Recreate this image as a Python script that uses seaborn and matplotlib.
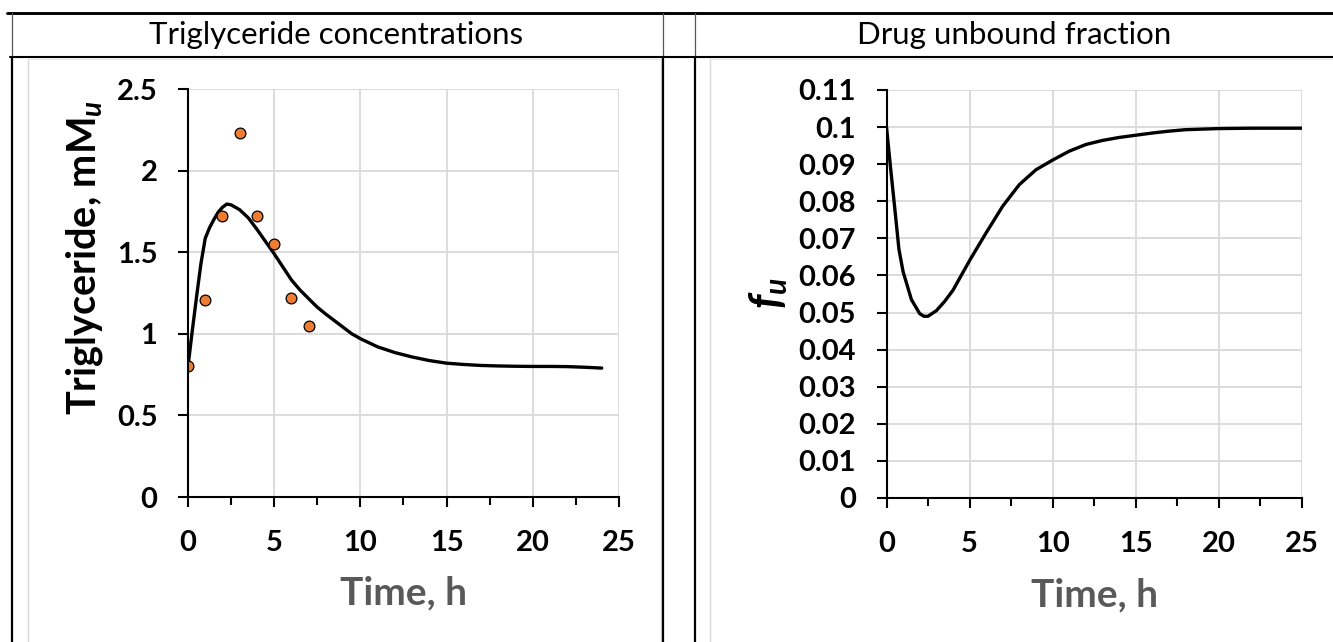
import matplotlib
matplotlib.use("Agg")
import matplotlib.pyplot as plt
from matplotlib.lines import Line2D
from matplotlib.ticker import MultipleLocator
import seaborn as sns
import pandas as pd

# ---------------- data ----------------
tg_time = [0, 0.25, 0.5, 0.75, 1, 1.25, 1.5, 1.75, 2, 2.25, 2.5, 3, 3.5, 4, 4.5,
           5, 5.5, 6, 6.5, 7, 7.5, 8, 8.5, 9, 9.5, 10, 11, 12, 13, 14, 15, 16,
           17, 18, 19, 20, 21, 22, 23, 24]
tg_model = [0.80, 1.02, 1.23, 1.43, 1.585, 1.65, 1.70, 1.745, 1.775, 1.795, 1.79,
            1.76, 1.71, 1.64, 1.565, 1.49, 1.41, 1.33, 1.268, 1.215, 1.163, 1.12,
            1.08, 1.04, 1.00, 0.97, 0.92, 0.885, 0.858, 0.836, 0.82, 0.812, 0.806,
            0.803, 0.801, 0.80, 0.80, 0.799, 0.795, 0.79]
tg_obs_time = [0, 1, 2, 3, 4, 5, 6, 7]
tg_obs = [0.80, 1.21, 1.72, 2.23, 1.72, 1.55, 1.22, 1.05]

fu_time = [0, 0.25, 0.5, 0.75, 1, 1.5, 2, 2.25, 2.5, 3, 3.5, 4, 4.5, 5, 6, 7, 8,
           9, 10, 11, 12, 13, 14, 15, 16, 17, 18, 20, 22, 25]
fu_model = [0.100, 0.0888, 0.078, 0.067, 0.061, 0.0535, 0.0497, 0.0490, 0.0490,
            0.0505, 0.0530, 0.0560, 0.0600, 0.0640, 0.0715, 0.0787, 0.0845,
            0.0885, 0.0911, 0.0935, 0.0953, 0.0964, 0.0972, 0.0978, 0.0984,
            0.0989, 0.0993, 0.0996, 0.0997, 0.0997]

x_ticks = [0, 5, 10, 15, 20, 25]
x_tick_labels = ["0", "5", "10", "15", "20", "25"]
tg_yticks = [0, 0.5, 1, 1.5, 2, 2.5]
tg_ytick_labels = ["0", "0.5", "1", "1.5", "2", "2.5"]
fu_yticks = [0, 0.01, 0.02, 0.03, 0.04, 0.05, 0.06, 0.07, 0.08, 0.09, 0.10, 0.11]
fu_ytick_labels = ["0", "0.01", "0.02", "0.03", "0.04", "0.05", "0.06", "0.07",
                   "0.08", "0.09", "0.1", "0.11"]

header_left = "Triglyceride concentrations"
header_right = "Drug unbound fraction"
xlabel = "Time, h"
ylabel_left = r"Triglyceride, mM$_{\mathit{u}}$"
ylabel_right = r"$\mathit{f}_{\mathit{u}}$"

# ---------------- style ----------------
sns.set_theme(style="white")
plt.rcParams["font.family"] = ["Lato", "DejaVu Sans"]
plt.rcParams["mathtext.fontset"] = "custom"
plt.rcParams["mathtext.rm"] = "Lato:bold"
plt.rcParams["mathtext.it"] = "Lato:italic:bold"
plt.rcParams["mathtext.bf"] = "Lato:bold"

W, H = 1333, 642
fig = plt.figure(figsize=(W / 100, H / 100), dpi=100)
fig.patch.set_facecolor("white")


def px_ax(x0, x1, ytop, ybot):
    return [x0 / W, 1 - ybot / H, (x1 - x0) / W, (ybot - ytop) / H]


ax1 = fig.add_axes(px_ax(188, 619, 89, 497))
ax2 = fig.add_axes(px_ax(886.5, 1301.7, 90, 498))

df_tg = pd.DataFrame({"t": tg_time, "v": tg_model})
df_obs = pd.DataFrame({"t": tg_obs_time, "v": tg_obs})
df_fu = pd.DataFrame({"t": fu_time, "v": fu_model})

sns.lineplot(data=df_tg, x="t", y="v", ax=ax1, color="black", lw=2.4, zorder=3)
sns.scatterplot(data=df_obs, x="t", y="v", ax=ax1, s=60, color="#ED7D31",
                edgecolor="black", linewidth=0.9, zorder=4)
sns.lineplot(data=df_fu, x="t", y="v", ax=ax2, color="black", lw=2.4, zorder=3)

grid_c = "#d9d9d9"
tick_font = dict(fontsize=21, fontweight="bold", color="black")

for ax, yt, ytl, ylim in [(ax1, tg_yticks, tg_ytick_labels, (0, 2.5)),
                          (ax2, fu_yticks, fu_ytick_labels, (0, 0.11))]:
    ax.set_xlim(0, 25)
    ax.set_ylim(*ylim)
    ax.set_xticks(x_ticks)
    ax.set_xticklabels(x_tick_labels, **tick_font)
    ax.set_yticks(yt)
    ax.set_yticklabels(ytl, **tick_font)
    ax.xaxis.set_minor_locator(MultipleLocator(2.5))
    ax.grid(True, which="major", color=grid_c, lw=1.3, zorder=0)
    ax.set_axisbelow(True)
    for s in ["top", "right"]:
        ax.spines[s].set_visible(False)
    for s in ["left", "bottom"]:
        ax.spines[s].set_color("black")
        ax.spines[s].set_linewidth(1.5)
        ax.spines[s].set_zorder(5)
    ax.tick_params(axis="x", which="major", direction="out", length=7.5,
                   width=1.5, color="black", pad=16, bottom=True)
    ax.tick_params(axis="x", which="minor", direction="out", length=5.5,
                   width=1.5, color="black", bottom=True)
    ax.tick_params(axis="y", which="major", direction="out", length=7,
                   width=1.5, color="black", pad=15, left=True)
    ax.set_xlabel(xlabel, fontsize=28, fontweight="bold", color="#595959",
                  va="center")

ax1.xaxis.set_label_coords(0.5, -0.235)
ax2.xaxis.set_label_coords(0.5, -0.238)

ax1.set_ylabel(ylabel_left, fontsize=28.5, fontweight="bold", color="black",
               va="center")
ax1.yaxis.set_label_coords(-0.24, 0.588)
ax2.set_ylabel(ylabel_right, fontsize=31, fontweight="bold", color="black",
               va="center")
ax2.yaxis.set_label_coords(-0.285, 0.502)

# ---------------- table frame ----------------
def hline(y, x0, x1, lw, c="black"):
    fig.add_artist(Line2D([x0 / W, x1 / W], [1 - y / H, 1 - y / H],
                          transform=fig.transFigure, color=c, lw=lw))


def vline(x, y0, y1, lw, c="black"):
    fig.add_artist(Line2D([x / W, x / W], [1 - y0 / H, 1 - y1 / H],
                          transform=fig.transFigure, color=c, lw=lw))


# light grey chart-area borders
for x in (28, 661, 710):
    vline(x, 59, H, 1.0, "#d9d9d9")
hline(59, 28, 661, 0.8, "#e6e6e6")
hline(59, 710, W, 0.8, "#e6e6e6")

# table lines
hline(13, 7, W, 2.1)
hline(57, 10, W, 1.5)
for x in (11.5, 663, 695):
    vline(x, 13, 57, 0.9, "#555555")
    vline(x, 57, H, 1.6)

fig.text(336 / W, 1 - 35 / H, header_left, ha="center", va="center",
         fontsize=22.5, color="black")
fig.text(1014 / W, 1 - 35 / H, header_right, ha="center", va="center",
         fontsize=22.5, color="black")

fig.savefig("out.png", dpi=100, facecolor="white")
